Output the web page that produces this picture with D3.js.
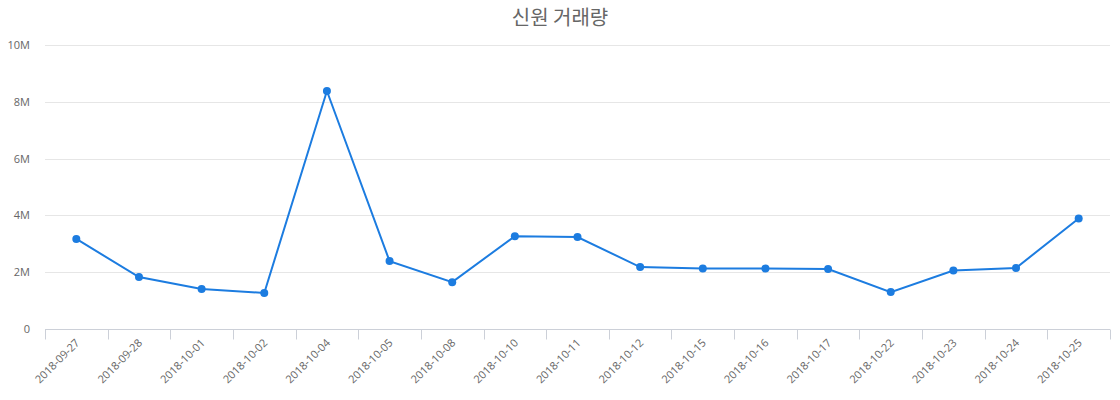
<!DOCTYPE html>
<html>
<head>
<meta charset="utf-8">
<script src="https://cdn.jsdelivr.net/npm/d3@7"></script>
<style>
  body { margin: 0; background: #fff; font-family: "Open Sans", "Noto Sans CJK KR", sans-serif; }
</style>
</head>
<body>
<svg id="chart" width="1120" height="400"></svg>
<script>
var dates = ["2018-09-27","2018-09-28","2018-10-01","2018-10-02","2018-10-04","2018-10-05",
             "2018-10-08","2018-10-10","2018-10-11","2018-10-12","2018-10-15","2018-10-16",
             "2018-10-17","2018-10-22","2018-10-23","2018-10-24","2018-10-25"];
var volume = [3170000, 1830000, 1410000, 1270000, 8380000, 2390000,
              1650000, 3270000, 3240000, 2180000, 2130000, 2130000,
              2110000, 1300000, 2060000, 2150000, 3890000];
var yTicks = [0, 2000000, 4000000, 6000000, 8000000, 10000000];
var title = "신원 거래량";

var vis = d3.select("#chart"),
    WIDTH = 1120,
    HEIGHT = 400,
    MARGINS = { top: 45, right: 10, bottom: 71, left: 45 };

var xScale = d3.scaleBand().domain(dates).range([MARGINS.left, WIDTH - MARGINS.right]),
    yScale = d3.scaleLinear().domain([0, 10000000]).range([HEIGHT - MARGINS.bottom, MARGINS.top]);

vis.append("text")
    .attr("x", WIDTH / 2)
    .attr("y", 25)
    .attr("text-anchor", "middle")
    .attr("fill", "#666")
    .style("font-size", "20px")
    .style("font-family", "'Noto Sans CJK KR', sans-serif")
    .text(title);

// grid
vis.append("g").selectAll("line")
    .data(yTicks.slice(1))
    .enter().append("line")
    .attr("x1", MARGINS.left)
    .attr("x2", WIDTH - MARGINS.right)
    .attr("y1", function(d) { return Math.round(yScale(d)) + 0.5; })
    .attr("y2", function(d) { return Math.round(yScale(d)) + 0.5; })
    .attr("stroke", "#e6e6e6");

// y axis labels
vis.append("g").selectAll("text")
    .data(yTicks)
    .enter().append("text")
    .attr("x", 30)
    .attr("y", function(d) { return yScale(d) + 4; })
    .attr("text-anchor", "end")
    .attr("fill", "#666")
    .style("font-size", "11px")
    .text(function(d) { return d === 0 ? "0" : (d / 1000000) + "M"; });

// x axis
var xAxis = vis.append("g")
    .attr("transform", "translate(0," + (HEIGHT - MARGINS.bottom + 0.5) + ")");
xAxis.append("line")
    .attr("x1", MARGINS.left).attr("x2", WIDTH - MARGINS.right)
    .attr("stroke", "#ccd0d8");
xAxis.selectAll("line.tick")
    .data(dates.concat(["end"]))
    .enter().append("line")
    .attr("class", "tick")
    .attr("x1", function(d, i) { return Math.round(i < dates.length ? xScale(d) : xScale.range()[1]) + 0.5; })
    .attr("x2", function(d, i) { return Math.round(i < dates.length ? xScale(d) : xScale.range()[1]) + 0.5; })
    .attr("y1", 0).attr("y2", 10)
    .attr("stroke", "#ccd0d8");
xAxis.selectAll("text")
    .data(dates)
    .enter().append("text")
    .attr("transform", function(d) {
      return "translate(" + (xScale(d) + xScale.bandwidth() / 2 + 4) + ",14) rotate(-45)";
    })
    .attr("text-anchor", "end")
    .attr("fill", "#666")
    .style("font-size", "11px")
    .text(function(d) { return d; });

//Line
var lineGen = d3.line()
    .x(function(d, i) { return xScale(dates[i]) + xScale.bandwidth() / 2; })
    .y(function(d) { return yScale(d); });

vis.append("path")
    .attr("d", lineGen(volume))
    .attr("stroke", "#1c7ce0")
    .attr("stroke-width", 2)
    .attr("fill", "none");

vis.append("g").selectAll("circle")
    .data(volume)
    .enter().append("circle")
    .attr("cx", function(d, i) { return xScale(dates[i]) + xScale.bandwidth() / 2; })
    .attr("cy", function(d) { return yScale(d); })
    .attr("r", 4)
    .attr("fill", "#1c7ce0");
</script>
</body>
</html>
